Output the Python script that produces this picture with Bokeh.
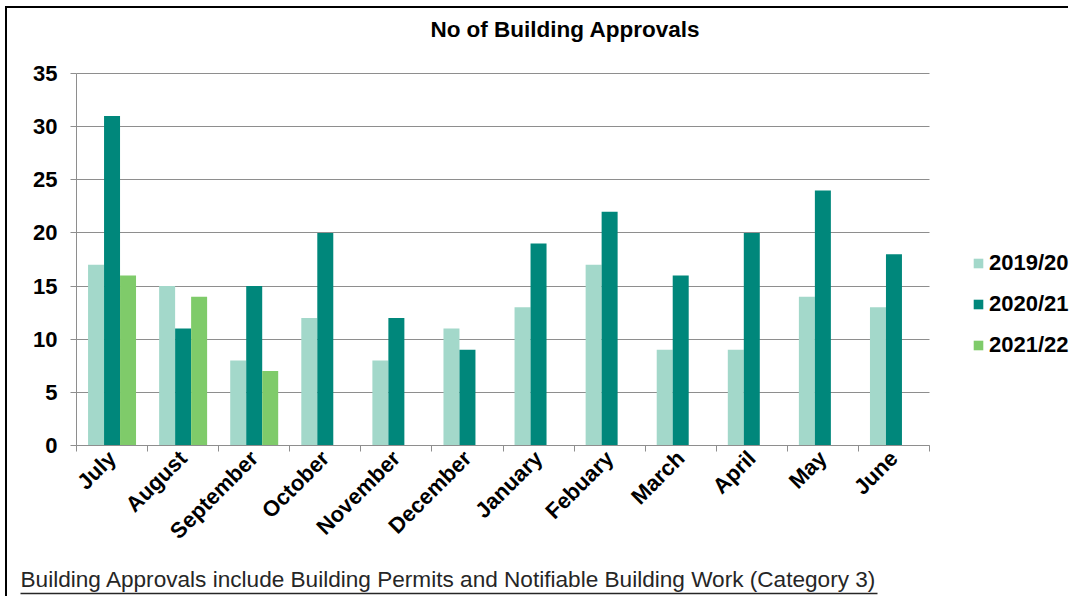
import math
from bokeh.plotting import figure
from bokeh.models import (ColumnDataSource, FixedTicker, Range1d, Legend,
                          LegendItem, Label, BoxAnnotation, InlineStyleSheet)
from bokeh.transform import dodge
from bokeh.embed import file_html
from bokeh.resources import INLINE

# ---- data ----
months = ["July", "August", "September", "October", "November", "December",
          "January", "Febuary", "March", "April", "May", "June"]
s2019_20 = [17, 15, 8, 12, 8, 11, 13, 17, 9, 9, 14, 13]
s2020_21 = [31, 11, 15, 20, 12, 9, 19, 22, 16, 20, 24, 18]
s2021_22 = [16, 14, 7]
series_names = ["2019/20", "2020/21", "2021/22"]
y_ticks = [0, 5, 10, 15, 20, 25, 30, 35]
title_text = "No of Building  Approvals"
footer_text = "Building Approvals include Building Permits and Notifiable Building Work (Category 3)"

# ---- style / layout ----
colors = ["#a3d8ca", "#00877b", "#7fcb6a"]
grid_col = "#8e8e8e"
FONT = "Liberation Sans"
W, H = 1063, 590
PL, PR, PT, PB = 69, 922, 65, 437   # plot-area edges in canvas px
n = len(months)
y_max = 35
# the frame covers the whole canvas; axes are drawn at fixed locations
ux = n / (PR - PL)            # data units per px (x)
uy = y_max / (PB - PT)        # data units per px (y)
x_range = Range1d(-PL * ux, (W - PL) * ux)
y_range = Range1d(-(H - PB) * uy, y_max + PT * uy)

def sx(px):  # canvas px -> x data
    return (px - PL) * ux

def sy(py):  # canvas px (from top) -> y data
    return (PB - py) * uy

p = figure(width=W, height=H, output_backend="svg", toolbar_location=None,
           x_range=x_range, y_range=y_range,
           min_border_left=0, min_border_right=0, min_border_top=0, min_border_bottom=0)
try:
    p.title = None
except Exception:
    p.title.visible = False
p.outline_line_color = None
p.background_fill_color = "white"
p.border_fill_color = "white"
p.stylesheets = [InlineStyleSheet(css=":host { margin-top: 6px; margin-left: 5px; "
                                      "border-top: 2px solid #000; border-left: 2px solid #000; }")]

xc = [i + 0.5 for i in range(n)]
src = ColumnDataSource(dict(x=xc, a=s2019_20, b=s2020_21))
src3 = ColumnDataSource(dict(x=xc[:len(s2021_22)], c=s2021_22))
bw = 0.225
r1 = p.vbar(x=dodge("x", -bw), top="a", width=bw, source=src,
            fill_color=colors[0], line_color=None)
r2 = p.vbar(x=dodge("x", 0), top="b", width=bw, source=src,
            fill_color=colors[1], line_color=None)
r3 = p.vbar(x=dodge("x", bw), top="c", width=bw, source=src3,
            fill_color=colors[2], line_color=None)

# x axis
xa = p.xaxis[0]
xa.fixed_location = 0
xa.bounds = (0, n)
xa.ticker = FixedTicker(ticks=xc, minor_ticks=list(range(n + 1)))
xa.major_label_overrides = {x: m for x, m in zip(xc, months)}
xa.major_label_orientation = math.pi / 4
xa.major_tick_out = 0
xa.major_tick_in = 0
xa.minor_tick_out = 6
xa.minor_tick_in = 0
xa.minor_tick_line_color = grid_col
xa.axis_line_color = grid_col
xa.major_label_standoff = 3
xa.major_label_text_font = FONT
xa.major_label_text_font_style = "bold"
xa.major_label_text_font_size = "22px"
xa.major_label_text_color = "black"
p.xgrid.visible = False

# y axis
ya = p.yaxis[0]
ya.fixed_location = 0
ya.bounds = (0, y_max)
ya.ticker = FixedTicker(ticks=y_ticks, minor_ticks=[])
ya.major_tick_out = 6
ya.major_tick_in = 0
ya.minor_tick_out = 0
ya.minor_tick_in = 0
ya.major_tick_line_color = grid_col
ya.axis_line_color = grid_col
ya.major_label_standoff = 13
ya.major_label_text_font = FONT
ya.major_label_text_font_style = "bold"
ya.major_label_text_font_size = "22px"
ya.major_label_text_color = "black"
yg = p.ygrid[0]
yg.grid_line_color = grid_col
yg.grid_line_width = 1
try:
    yg.cross_bounds = (0, n)
except Exception:
    pass

# series legend
legend = Legend(items=[LegendItem(label=s, renderers=[r]) for s, r in zip(series_names, [r1, r2, r3])],
                location=(965, 240), padding=0, margin=0, spacing=15,
                glyph_width=12, glyph_height=12, label_standoff=5,
                label_text_font=FONT, label_text_font_style="bold",
                label_text_font_size="22px", label_text_color="black",
                border_line_color=None, background_fill_alpha=0)
p.add_layout(legend)

# title
p.add_layout(Label(x=561, y=H - 21, x_units="screen", y_units="screen", text=title_text,
                   text_align="center", text_baseline="alphabetic",
                   text_font=FONT, text_font_style="bold", text_font_size="22.5px",
                   text_color="black"))

# footer (underlined)
p.add_layout(Label(x=13, y=H - 571, x_units="screen", y_units="screen", text=footer_text,
                   text_align="left", text_baseline="alphabetic",
                   text_font=FONT, text_font_style="normal", text_font_size="22.6px",
                   text_color="#262626"))
p.add_layout(BoxAnnotation(left=sx(13), right=sx(870), top=sy(584.2), bottom=sy(585.8),
                           fill_color="#262626", fill_alpha=1, line_color=None, level="overlay"))

open("out.html", "w").write(file_html(p, INLINE))
